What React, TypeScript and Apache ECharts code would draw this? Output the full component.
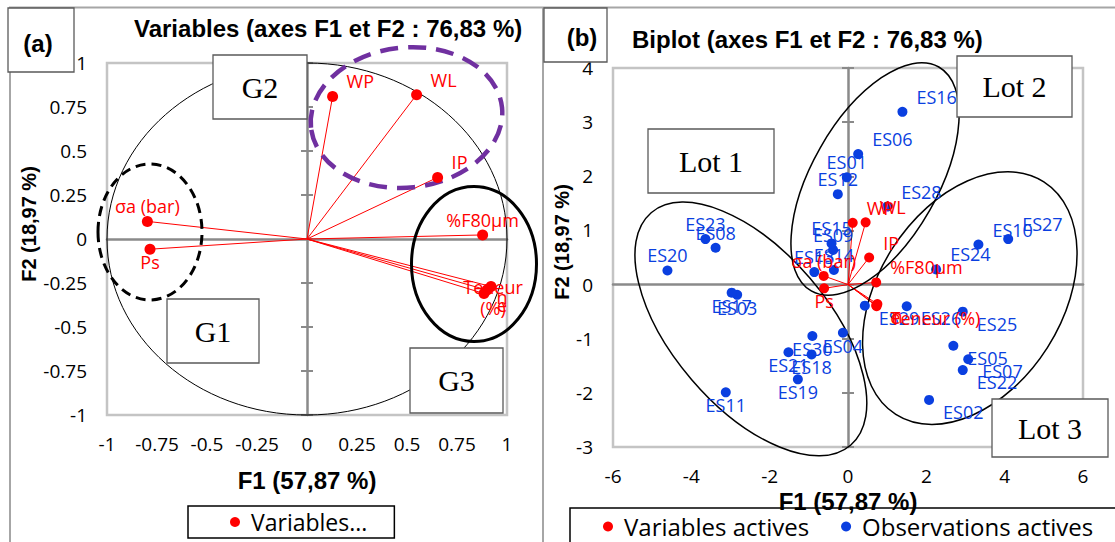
import React, { useEffect, useRef } from "react";
import * as echarts from "echarts";

// ---------- DATA ----------
// Variables (names shared by both panels)
const varNames = ["WP", "WL", "IP", "%F80µm", "σa (bar)", "Ps", "Teneur (%)", "n", "e"];
// (a) correlation circle coordinates
const varF1Circle = [0.128, 0.548, 0.653, 0.878, -0.798, -0.785, 0.885, 0.92, 0.9];
const varF2Circle = [0.81, 0.82, 0.35, 0.023, 0.1, -0.058, -0.31, -0.27, -0.29];
// (b) biplot coordinates of the variables
const varF1Biplot = [0.12, 0.45, 0.54, 0.72, -0.62, -0.61, 0.73, 0.75, 0.72];
const varF2Biplot = [1.14, 1.15, 0.5, 0.04, 0.16, -0.07, -0.4, -0.36, -0.38];

// (b) observations
const obsNames = [
  "ES01", "ES02", "ES03", "ES04", "ES05", "ES06", "ES07", "ES08", "ES09", "ES10",
  "ES11", "ES12", "ES13", "ES14", "ES15", "ES16", "ES17", "ES18", "ES19", "ES20",
  "ES21", "ES22", "ES23", "ES24", "ES25", "ES26", "ES27", "ES28", "ES29", "ES30",
];
const obsF1 = [
  -0.03, 2.07, -2.83, -0.13, 2.69, 0.26, 3.07, -3.38, -0.38, 3.33,
  -3.12, -0.26, -0.86, -0.36, -0.42, 1.39, -2.97, -0.93, -1.28, -4.61,
  -1.52, 2.93, -3.64, 2.25, 2.93, 1.5, 4.09, 1.0, 0.43, -0.91,
];
const obsF2 = [
  1.98, -2.13, -0.19, -0.89, -1.13, 2.41, -1.38, 0.68, 0.64, 0.74,
  -1.99, 1.67, 0.23, 0.27, 0.76, 3.19, -0.15, -1.29, -1.75, 0.26,
  -1.25, -1.58, 0.84, 0.28, -0.5, -0.4, 0.84, 1.44, -0.39, -0.95,
];

// Tick labels
const ticksCircle = [-1, -0.75, -0.5, -0.25, 0, 0.25, 0.5, 0.75, 1];
const ticksBiplotF1 = [-6, -4, -2, 0, 2, 4, 6];
const ticksBiplotF2 = [-3, -2, -1, 0, 1, 2, 3, 4];

// Group ellipses: [centre F1, centre F2, semi-axis 1, semi-axis 2 (in F1 units), angle deg]
const groupEllipsesA = [
  [-0.785, 0.04, 0.26, 0.34, 0],
  [0.4975, 0.69, 0.48, 0.35, 6],
  [0.835, -0.142, 0.3125, 0.3875, 0],
];
const lotEllipsesB = [
  [-2.48, -0.82, 3.91, 1.99, -49.4],
  [0.69, 1.95, 3.29, 1.61, 60.3],
  [3.11, -0.25, 3.52, 2.35, 57.5],
];

// ---------- STYLE ----------
const FONT = "'Open Sans', sans-serif";
const BOLD = "'Liberation Sans', Arial, sans-serif";
const SERIF = "'Liberation Serif', 'Times New Roman', serif";
const RED = "#ff0000";
const BLUE = "#0a3fe0";
const AXIS_GRAY = "#8a8a8a";
const BORDER_GRAY = "#c4c4c4";

const groupEllipseStylesA = [
  { stroke: "#000", lineWidth: 3, lineDash: [10, 6], fill: "none" },
  { stroke: "#7030a0", lineWidth: 4.5, lineDash: [18, 10], fill: "none" },
  { stroke: "#000", lineWidth: 3, fill: "none" },
];

const circleLabelTweaks: Record<string, any> = {
  "%F80µm": { align: "center", offset: [0, -15] },
  "Teneur (%)": { align: "center", offset: [9, 4], text: "Teneur\n(%)" },
  n: { align: "center", offset: [11, 10] },
  e: { align: "center", offset: [15, 15] },
};

function quadrantLabel(x: number, y: number) {
  if (x < 0) return y >= 0 ? { align: "center", offset: [0, -15] } : { align: "center", offset: [0, 13] };
  return y >= 0 ? { align: "left", offset: [14, -15] } : { align: "left", offset: [14, 12] };
}

function pointItems(names: string[], xs: number[], ys: number[], color: string, tweaks?: Record<string, any>) {
  return names.map((n, i) => {
    const t = (tweaks && tweaks[n]) || quadrantLabel(xs[i], ys[i]);
    return {
      name: n,
      value: [xs[i], ys[i]],
      label: {
        show: true,
        position: "inside",
        align: t.align,
        verticalAlign: "middle",
        offset: t.offset,
        formatter: t.text || n,
        color,
        fontFamily: FONT,
        fontSize: 18,
        lineHeight: 21,
        textBorderWidth: 0,
      },
    };
  });
}

function ellipseRenderer(styles: any[] | null, style?: any) {
  return (params: any, api: any) => {
    const c = api.coord([api.value(0), api.value(1)]);
    const a = api.size([api.value(2), 0])[0];
    const b = api.size([api.value(3), 0])[0];
    return {
      type: "ellipse",
      x: c[0],
      y: c[1],
      rotation: (api.value(4) * Math.PI) / 180,
      shape: { cx: 0, cy: 0, rx: a, ry: b },
      style: styles ? styles[params.dataIndex] : style,
    };
  };
}

const vectorRenderer = (params: any, api: any) => {
  const o = api.coord([0, 0]);
  const e = api.coord([api.value(0), api.value(1)]);
  return {
    type: "line",
    shape: { x1: o[0], y1: o[1], x2: e[0], y2: e[1] },
    style: { stroke: RED, lineWidth: 1 },
  };
};

function labelAxisX(grid: number, ticks: number[], name: string, nameGap: number) {
  return {
    gridIndex: grid,
    type: "value",
    min: ticks[0],
    max: ticks[ticks.length - 1],
    interval: ticks[1] - ticks[0],
    position: "bottom",
    axisLine: { show: false, onZero: false },
    axisTick: { show: false },
    splitLine: { show: false },
    axisLabel: { margin: 19, fontSize: 19, fontFamily: FONT, color: "#000", showMinLabel: true, showMaxLabel: true },
    name,
    nameLocation: "middle",
    nameGap,
    nameTextStyle: { fontFamily: BOLD, fontWeight: "bold", fontSize: 24, color: "#000" },
  };
}
function zeroAxisX(grid: number, ticks: number[]) {
  return {
    gridIndex: grid,
    type: "value",
    min: ticks[0],
    max: ticks[ticks.length - 1],
    interval: ticks[1] - ticks[0],
    axisLine: { show: true, onZero: true, lineStyle: { color: AXIS_GRAY, width: 2.5 } },
    axisTick: { show: false },
    axisLabel: { show: false },
    splitLine: { show: false },
  };
}
function labelAxisY(grid: number, ticks: number[], name: string, nameGap: number, shift: number) {
  return {
    gridIndex: grid,
    type: "value",
    min: ticks[0],
    max: ticks[ticks.length - 1],
    interval: ticks[1] - ticks[0],
    position: "left",
    axisLine: { show: false, onZero: false },
    axisTick: { show: false },
    splitLine: { show: false },
    axisLabel: { margin: 20, fontSize: 19, fontFamily: FONT, color: "#000", showMinLabel: true, showMaxLabel: true },
    name,
    nameLocation: "middle",
    nameRotate: 90,
    nameGap,
    nameTextStyle: { fontFamily: BOLD, fontWeight: "bold", fontSize: 20, color: "#000", padding: [0, 0, 0, shift] },
  };
}
function zeroAxisY(grid: number, ticks: number[], position: string) {
  return {
    gridIndex: grid,
    type: "value",
    min: ticks[0],
    max: ticks[ticks.length - 1],
    interval: ticks[1] - ticks[0],
    position,
    axisLine: { show: position === "left", onZero: true, lineStyle: { color: AXIS_GRAY, width: 2.5 } },
    axisTick: { show: true, length: 6, lineStyle: { color: AXIS_GRAY, width: 2 } },
    axisLabel: { show: false },
    splitLine: { show: false },
  };
}

function box(x: number, y: number, w: number, h: number, text: string, font: any, tx?: number, ty?: number) {
  return [
    { type: "rect", z: 50, shape: { x, y, width: w, height: h }, style: { fill: "#fff", stroke: "#5a5a5a", lineWidth: 1.3 } },
    {
      type: "text",
      z: 51,
      x: tx ?? x + w / 2,
      y: ty ?? y + h / 2,
      style: { text, fill: "#000", align: "center", verticalAlign: "middle", ...font },
    },
  ];
}

function buildOption(): any {
  const serifFont = { fontFamily: SERIF, fontSize: 30 };
  const boldFont = { fontFamily: BOLD, fontWeight: "bold", fontSize: 24 };
  return {
    animation: false,
    backgroundColor: "#fff",
    title: [
      { text: "Variables (axes F1 et F2 : 76,83 %)", left: 134, top: 16, padding: 0, textStyle: { ...boldFont, color: "#000" } },
      { text: "Biplot (axes F1 et F2 : 76,83 %)", left: 632, top: 27, padding: 0, textStyle: { ...boldFont, color: "#000" } },
    ],
    grid: [
      { left: 107, top: 63, width: 400, height: 352, show: true, borderColor: BORDER_GRAY, borderWidth: 2.5, backgroundColor: "transparent" },
      { left: 613, top: 68, width: 470, height: 379, show: true, borderColor: BORDER_GRAY, borderWidth: 2.5, backgroundColor: "transparent" },
    ],
    xAxis: [
      labelAxisX(0, ticksCircle, "F1 (57,87 %)", 53),
      zeroAxisX(0, ticksCircle),
      labelAxisX(1, ticksBiplotF1, "F1 (57,87 %)", 28),
      zeroAxisX(1, ticksBiplotF1),
    ],
    yAxis: [
      labelAxisY(0, ticksCircle, "F2 (18,97 %)", 65, 30),
      zeroAxisY(0, ticksCircle, "left"),
      zeroAxisY(0, ticksCircle, "right"),
      labelAxisY(1, ticksBiplotF2, "F2 (18,97 %)", 40, 31),
      zeroAxisY(1, ticksBiplotF2, "left"),
      zeroAxisY(1, ticksBiplotF2, "right"),
    ],
    legend: [
      {
        data: ["Variables actives"],
        formatter: () => "Variables...",
        left: 188,
        top: 506,
        padding: [3, 27, 3, 42],
        borderColor: "#000",
        borderWidth: 1.5,
        icon: "circle",
        itemWidth: 22,
        itemHeight: 10,
        selectedMode: false,
        textStyle: { fontFamily: FONT, fontSize: 23, lineHeight: 26, color: "#000" },
      },
      {
        data: ["Variables actives", "Observations actives"],
        left: 570,
        top: 508,
        width: 620,
        orient: "horizontal",
        padding: [5, 60, 20, 33],
        itemGap: 32,
        borderColor: "#000",
        borderWidth: 1.5,
        icon: "circle",
        itemWidth: 22,
        itemHeight: 10,
        selectedMode: false,
        textStyle: { fontFamily: FONT, fontSize: 24, lineHeight: 27, color: "#000" },
      },
    ],
    series: [
      // ---- panel (a)
      {
        type: "custom",
        name: "cercle",
        xAxisIndex: 0,
        yAxisIndex: 0,
        clip: false,
        silent: true,
        z: 1,
        data: [[0, 0]],
        renderItem: (params: any, api: any) => {
          const c = api.coord([0, 0]);
          const rx = api.size([1, 0])[0];
          const ry = api.size([0, 1])[1];
          return { type: "ellipse", shape: { cx: c[0], cy: c[1], rx, ry }, style: { fill: "none", stroke: "#000", lineWidth: 1 } };
        },
      },
      {
        type: "custom",
        name: "groupes",
        xAxisIndex: 0,
        yAxisIndex: 0,
        clip: false,
        silent: true,
        z: 3,
        data: groupEllipsesA,
        renderItem: ellipseRenderer(groupEllipseStylesA),
      },
      {
        type: "custom",
        name: "vecteurs a",
        xAxisIndex: 0,
        yAxisIndex: 0,
        silent: true,
        z: 2,
        data: varF1Circle.map((x, i) => [x, varF2Circle[i]]),
        renderItem: vectorRenderer,
      },
      {
        type: "scatter",
        name: "Variables actives",
        xAxisIndex: 0,
        yAxisIndex: 0,
        symbolSize: 11,
        z: 5,
        itemStyle: { color: RED, opacity: 1 },
        data: pointItems(varNames, varF1Circle, varF2Circle, RED, circleLabelTweaks),
      },
      // ---- panel (b)
      {
        type: "custom",
        name: "lots",
        xAxisIndex: 2,
        yAxisIndex: 3,
        clip: false,
        silent: true,
        z: 3,
        data: lotEllipsesB,
        renderItem: ellipseRenderer(null, { fill: "none", stroke: "#000", lineWidth: 1.5 }),
      },
      {
        type: "custom",
        name: "vecteurs b",
        xAxisIndex: 2,
        yAxisIndex: 3,
        silent: true,
        z: 2,
        data: varF1Biplot.map((x, i) => [x, varF2Biplot[i]]),
        renderItem: vectorRenderer,
      },
      {
        type: "scatter",
        name: "Observations actives",
        xAxisIndex: 2,
        yAxisIndex: 3,
        symbolSize: 10,
        z: 4,
        itemStyle: { color: BLUE, opacity: 1 },
        data: pointItems(obsNames, obsF1, obsF2, BLUE),
      },
      {
        type: "scatter",
        name: "Variables actives",
        xAxisIndex: 2,
        yAxisIndex: 3,
        symbolSize: 10,
        z: 5,
        itemStyle: { color: RED, opacity: 1 },
        data: pointItems(varNames, varF1Biplot, varF2Biplot, RED),
      },
    ],
    graphic: [
      { type: "polyline", z: 0, silent: true, shape: { points: [[10, 560], [10, 7.5], [1120, 7.5]] }, style: { stroke: "#a6a6a6", lineWidth: 2, fill: "none" } },
      { type: "line", z: 0, silent: true, shape: { x1: 543, y1: 7.5, x2: 543, y2: 560 }, style: { stroke: "#a6a6a6", lineWidth: 2 } },
      ...box(8, 8, 66, 64, "(a)", boldFont, 38, 43),
      ...box(544, 8, 63, 54, "(b)", boldFont, 582, 37),
      ...box(213, 55, 94, 64, "G2", serifFont),
      ...box(167, 299, 92, 64, "G1", serifFont),
      ...box(410, 348, 93, 65, "G3", serifFont),
      ...box(648, 129, 126, 64, "Lot 1", serifFont),
      ...box(957, 56, 115, 61, "Lot 2", serifFont),
      ...box(992, 399, 116, 58, "Lot 3", serifFont),
    ],
  };
}

export default function App() {
  const ref = useRef<HTMLDivElement>(null);
  useEffect(() => {
    document.body.style.margin = "0";
    const chart = echarts.init(ref.current!, undefined, { renderer: "svg" });
    chart.setOption(buildOption());
    return () => chart.dispose();
  }, []);
  return <div ref={ref} style={{ width: 1115, height: 542 }} />;
}
